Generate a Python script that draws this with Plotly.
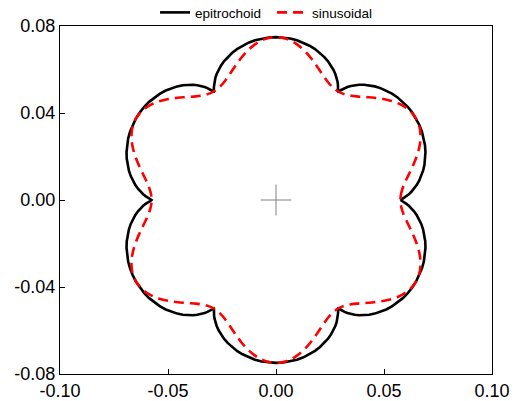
import numpy as np
import plotly.graph_objects as go

# Half-lobe of each curve (polar angle in degrees, radius);
# the picture is 6-fold symmetric with mirror symmetry about each lobe axis.
epi_angle = [0.0, 0.16, 0.36, 0.66, 1.1, 1.69, 2.47, 3.45, 4.63, 6.0, 7.56, 9.3, 11.19,
             13.23, 15.4, 17.67, 20.03, 22.46, 24.94, 27.46, 30.0]
epi_radius = [0.0576, 0.05772, 0.05808, 0.05867, 0.05947, 0.06044, 0.06156, 0.0628, 0.06411,
              0.06546, 0.06681, 0.06814, 0.06941, 0.0706, 0.07168, 0.07262, 0.07342, 0.07406,
              0.07452, 0.07481, 0.0749]
sin_angle = [0, 2, 4, 6, 8, 10, 12, 14, 16, 18, 20, 22, 24, 26, 28, 30]
sin_radius = [0.0576, 0.05779, 0.05835, 0.05925, 0.06046, 0.06193, 0.06358, 0.06535, 0.06715,
              0.06892, 0.07057, 0.07204, 0.07325, 0.07415, 0.07471, 0.0749]
center_x = [0.0]
center_y = [0.0]
x_ticks = [-0.1, -0.05, 0.0, 0.05, 0.1]
x_labels = ['-0.10', '-0.05', '0.00', '0.05', '0.10']
y_ticks = [-0.08, -0.04, 0.0, 0.04, 0.08]
y_labels = ['-0.08', '-0.04', '0.00', '0.04', '0.08']


def full_curve(angles, radii):
    T = list(angles) + [60 - a for a in angles[::-1][1:]]
    R = list(radii) + list(radii[::-1][1:])
    TT, RR = [], []
    for k in range(6):
        TT += [a + 60 * k for a in (T if k == 0 else T[1:])]
        RR += (R if k == 0 else R[1:])
    TT = np.deg2rad(TT)
    RR = np.array(RR)
    return RR * np.cos(TT), RR * np.sin(TT)


ex, ey = full_curve(epi_angle, epi_radius)
sx, sy = full_curve(sin_angle, sin_radius)

fig = go.Figure()
fig.add_trace(go.Scatter(x=ex, y=ey, mode='lines', name='epitrochoid',
                         line=dict(color='black', width=2.6)))
fig.add_trace(go.Scatter(x=sx, y=sy, mode='lines', name='sinusoidal',
                         line=dict(color='red', width=2.6, dash='10px,6px', shape='spline')))
fig.add_trace(go.Scatter(x=center_x, y=center_y, mode='markers', showlegend=False,
                         marker=dict(symbol='cross-thin', size=22, line=dict(color='gray', width=1))))
fig.update_layout(width=525, height=401, margin=dict(l=60, r=33, t=26, b=27, autoexpand=False),
                  plot_bgcolor='white', paper_bgcolor='white',
                  font=dict(family='Liberation Sans, Arial', size=18, color='black'),
                  legend=dict(orientation='h', xref='paper', yref='paper', x=0.22, y=1.083,
                              yanchor='top', xanchor='left', entrywidth=72, entrywidthmode='pixels',
                              bgcolor='rgba(0,0,0,0)', font=dict(size=13.5)))
fig.update_xaxes(range=[-0.1, 0.1], tickvals=x_ticks, ticktext=x_labels, ticks='inside', ticklen=5,
                 tickcolor='black', showline=True, mirror=True, linecolor='black', linewidth=1.2,
                 showgrid=False, zeroline=False, automargin=False)
fig.update_yaxes(range=[-0.08, 0.08], tickvals=y_ticks, ticktext=y_labels, ticks='inside', ticklen=5,
                 tickcolor='black', showline=True, mirror=True, linecolor='black', linewidth=1.2,
                 showgrid=False, zeroline=False, automargin=False)
fig.write_html("out.html")
